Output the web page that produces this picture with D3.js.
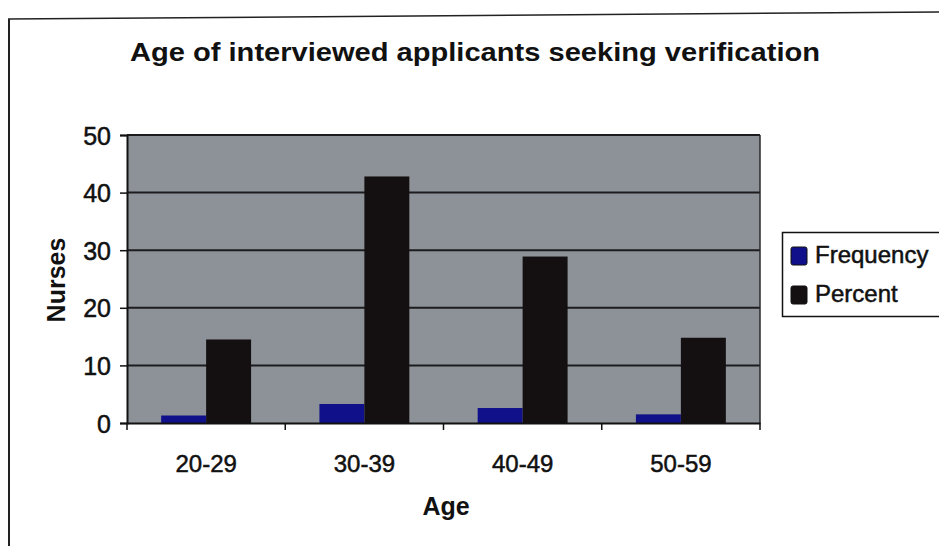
<!DOCTYPE html>
<html>
<head>
<meta charset="utf-8">
<script src="https://cdn.jsdelivr.net/npm/d3@7"></script>
<style>
  body { margin: 0; background: #fff; }
  svg { display: block; font-family: "Liberation Sans", Arial, sans-serif; }
  .thick { stroke: #111; stroke-width: 0.5px; }
</style>
</head>
<body>
<svg id="chart" width="939" height="546"></svg>
<script>
// Age groups and the two series
const ageGroups = ['20-29', '30-39', '40-49', '50-59'];
const seriesNames = ['Frequency', 'Percent'];
const frequency = [1.3, 3.3, 2.6, 1.5];
const percent = [14.5, 42.8, 28.9, 14.8];
const yTicks = [0, 10, 20, 30, 40, 50];

const colors = { Frequency: '#10108a', Percent: '#140f10' };

const svg = d3.select('#chart');
const plot = { left: 127, right: 760, top: 135, bottom: 423 };

// Outer frame of the scanned figure (top and left edges only)
svg.append('line')
    .attr('x1', 8).attr('y1', 19).attr('x2', 939).attr('y2', 12)
    .attr('stroke', '#222').attr('stroke-width', 1.5);
svg.append('line')
    .attr('x1', 9).attr('y1', 19).attr('x2', 9).attr('y2', 546)
    .attr('stroke', '#222').attr('stroke-width', 2);

// Title
svg.append('text')
    .attr('x', 475).attr('y', 61)
    .attr('text-anchor', 'middle')
    .attr('textLength', 690).attr('lengthAdjust', 'spacingAndGlyphs')
    .style('font-size', '25px')
    .style('font-weight', 'bold')
    .style('fill', '#111')
    .text('Age of interviewed applicants seeking verification');

const x0 = d3.scaleBand().domain(ageGroups).range([plot.left, plot.right]).padding(0);
const x1 = d3.scaleBand().domain(seriesNames).range([0, x0.bandwidth()])
    .paddingInner(0).paddingOuter(0.76);
const y = d3.scaleLinear().domain([0, 50]).range([plot.bottom, plot.top]);

// Plot area background
svg.append('rect')
    .attr('x', plot.left).attr('y', plot.top)
    .attr('width', plot.right - plot.left).attr('height', plot.bottom - plot.top)
    .attr('fill', '#8d9298');

// Gridlines
svg.append('g').selectAll('line').data(yTicks.filter(d => d > 0)).join('line')
    .attr('x1', plot.left).attr('x2', plot.right)
    .attr('y1', d => y(d)).attr('y2', d => y(d))
    .attr('stroke', '#1c1c1e').attr('stroke-width', 2);

// right border of plot area
svg.append('line')
    .attr('x1', plot.right).attr('x2', plot.right)
    .attr('y1', plot.top).attr('y2', plot.bottom)
    .attr('stroke', '#2a2a2c').attr('stroke-width', 1.5);

// Bars
const rows = ageGroups.map((g, i) => ({ group: g, values: [
    { key: 'Frequency', value: frequency[i] },
    { key: 'Percent', value: percent[i] }
] }));

svg.append('g').selectAll('g').data(rows).join('g')
    .attr('transform', d => `translate(${x0(d.group)},0)`)
    .selectAll('rect').data(d => d.values).join('rect')
    .attr('x', d => x1(d.key))
    .attr('width', x1.bandwidth())
    .attr('y', d => y(d.value))
    .attr('height', d => y(0) - y(d.value))
    .attr('fill', d => colors[d.key]);

// Y axis
const yAxis = svg.append('g')
    .attr('transform', `translate(${plot.left},0)`)
    .call(d3.axisLeft(y).tickValues(yTicks).tickSize(7).tickPadding(9));
yAxis.select('.domain').attr('stroke', '#111').attr('stroke-width', 2);
yAxis.selectAll('.tick line').attr('stroke', '#111').attr('stroke-width', 1.5);
yAxis.selectAll('.tick text')
    .attr('class', 'thick')
    .style('font-size', '25px').style('fill', '#111').attr('dy', '0.36em');

// X axis: ticks sit on the category boundaries
const xAxis = svg.append('g')
    .attr('transform', `translate(0,${plot.bottom})`)
    .call(d3.axisBottom(x0).tickSize(0).tickPadding(32));
xAxis.select('.domain').attr('stroke', '#111').attr('stroke-width', 2);
xAxis.selectAll('.tick text')
    .attr('class', 'thick')
    .style('font-size', '24px').style('fill', '#111');
xAxis.selectAll('line.bound').data(ageGroups.map(g => x0(g)).concat([plot.right])).join('line')
    .attr('class', 'bound')
    .attr('x1', d => d).attr('x2', d => d)
    .attr('y1', 0).attr('y2', 7)
    .attr('stroke', '#111').attr('stroke-width', 1.5);

// Axis titles
svg.append('text')
    .attr('x', 446).attr('y', 515)
    .attr('text-anchor', 'middle')
    .style('font-size', '25px').style('font-weight', 'bold').style('fill', '#111')
    .text('Age');
svg.append('text')
    .attr('transform', 'translate(65,280) rotate(-90)')
    .attr('text-anchor', 'middle')
    .style('font-size', '25px').style('font-weight', 'bold').style('fill', '#111')
    .text('Nurses');

// Legend
const legend = svg.append('g');
legend.append('rect')
    .attr('x', 782.5).attr('y', 232.5).attr('width', 170).attr('height', 84)
    .attr('fill', '#fff').attr('stroke', '#111').attr('stroke-width', 1.5);
const items = legend.selectAll('g.item').data(seriesNames).join('g')
    .attr('class', 'item')
    .attr('transform', (d, i) => `translate(791,${247 + i * 39})`);
items.append('rect')
    .attr('width', 16).attr('height', 18).attr('rx', 2)
    .attr('fill', d => colors[d]).attr('stroke', '#111').attr('stroke-width', 1);
items.append('text')
    .attr('x', 24).attr('y', 16)
    .attr('class', 'thick')
    .style('font-size', '24px').style('fill', '#111')
    .text(d => d);
</script>
</body>
</html>
